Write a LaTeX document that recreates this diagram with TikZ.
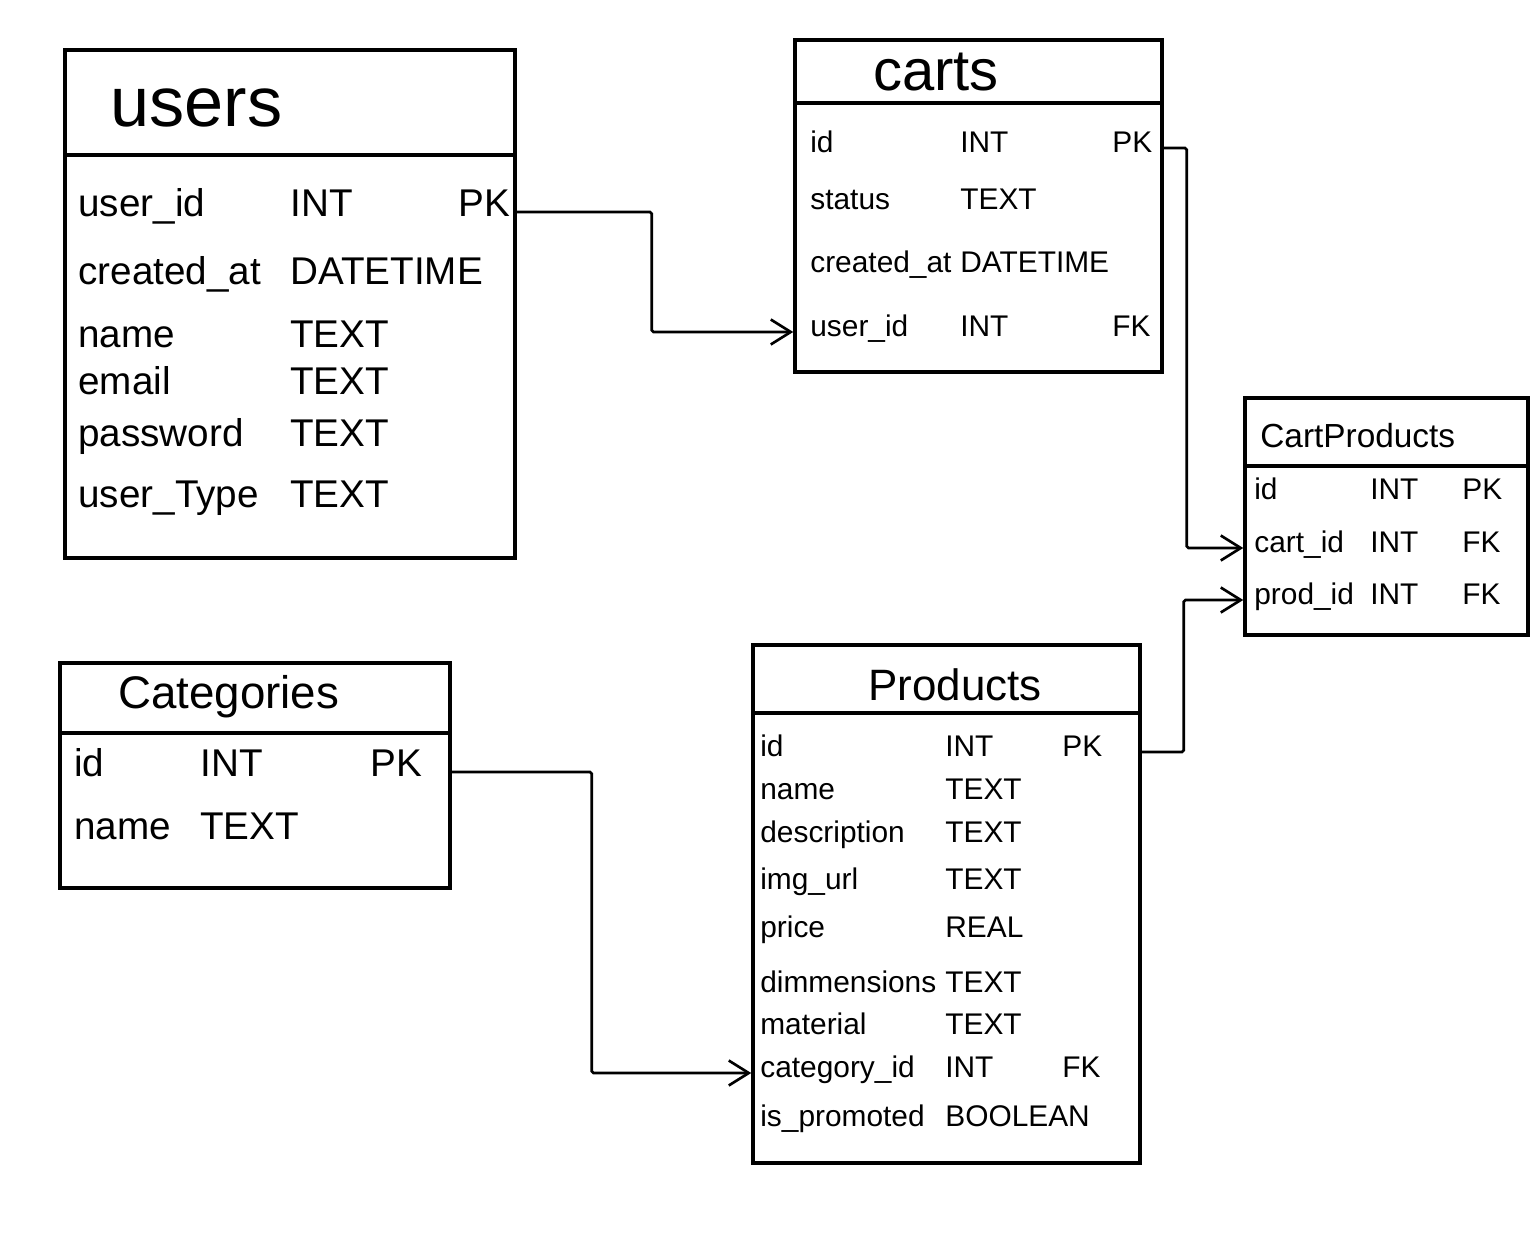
\documentclass[tikz,border=0pt]{standalone}
\usepackage{fontspec}
\setmainfont{Liberation Sans}
\usetikzlibrary{arrows.meta,positioning,fit}

\begin{document}
\begin{tikzpicture}[x=0.02cm,y=-0.02cm,
  tbl/.style={draw,line width=2pt,inner sep=0pt},
  hdr/.style={line width=2pt},
  ttl/.style={inner sep=0pt},
  fld/.style={anchor=west,inner sep=0pt,text height=0.72em,text depth=0.2em},
  link/.style={-{Straight Barb[length=4mm,width=5mm,line width=1.5pt]},line width=1.5pt,rounded corners=1pt}]
\useasboundingbox (0,0) rectangle (1536,1240);

% table frames
\node[tbl,fit={(65,50) (515,558)}] (users) {};
\node[tbl,fit={(795,40) (1162,372)}] (carts) {};
\node[tbl,fit={(1245,398) (1528,635)}] (cartprod) {};
\node[tbl,fit={(60,663) (450,888)}] (cats) {};
\node[tbl,fit={(753,645) (1140,1163)}] (prods) {};

% header rules
\draw[hdr] (users.west |- 0,155) -- (users.east |- 0,155);
\draw[hdr] (carts.west |- 0,103) -- (carts.east |- 0,103);
\draw[hdr] (cartprod.west |- 0,466) -- (cartprod.east |- 0,466);
\draw[hdr] (cats.west |- 0,733) -- (cats.east |- 0,733);
\draw[hdr] (prods.west |- 0,713) -- (prods.east |- 0,713);

% titles
\node[ttl,anchor=west,font=\fontsize{40}{44}\selectfont] (users-t) at (110,108) {users};
\node[ttl,font=\fontsize{33}{37}\selectfont] (carts-t) at (936,72) {carts};
\node[ttl,anchor=west,font=\fontsize{19}{23}\selectfont] (cartprod-t) at (1260,436) {CartProducts};
\node[ttl,anchor=west,font=\fontsize{26}{30}\selectfont] (cats-t) at (118,697) {Categories};
\node[ttl,font=\fontsize{25}{29}\selectfont] (prods-t) at (955,685) {Products};

% users
\foreach \n/\t/\k/\y [count=\i] in {user\_id/INT/PK/212,created\_at/DATETIME//280,name/TEXT//343,
    email/TEXT//390,password/TEXT//442,user\_Type/TEXT//503} {
  \node[fld,font=\fontsize{22}{26}\selectfont] (users-\i) at (78,\y) {\n};
  \node[fld,font=\fontsize{22}{26}\selectfont] at (290,\y) {\t};
  \node[fld,font=\fontsize{22}{26}\selectfont] at (458,\y) {\k};
}

% carts
\foreach \n/\t/\k/\y [count=\i] in {id/INT/PK/148,status/TEXT//205,created\_at/DATETIME//268,user\_id/INT/FK/332} {
  \node[fld,font=\fontsize{17}{21}\selectfont] (carts-\i) at (810,\y) {\n};
  \node[fld,font=\fontsize{17}{21}\selectfont] at (960,\y) {\t};
  \node[fld,font=\fontsize{17}{21}\selectfont] at (1112,\y) {\k};
}

% cart products
\foreach \n/\t/\k/\y [count=\i] in {id/INT/PK/495,cart\_id/INT/FK/548,prod\_id/INT/FK/600} {
  \node[fld,font=\fontsize{17}{21}\selectfont] (cartprod-\i) at (1254,\y) {\n};
  \node[fld,font=\fontsize{17}{21}\selectfont] at (1370,\y) {\t};
  \node[fld,font=\fontsize{17}{21}\selectfont] at (1462,\y) {\k};
}

% categories
\foreach \n/\t/\k/\y [count=\i] in {id/INT/PK/772,name/TEXT//835} {
  \node[fld,font=\fontsize{22}{26}\selectfont] (cats-\i) at (74,\y) {\n};
  \node[fld,font=\fontsize{22}{26}\selectfont] at (200,\y) {\t};
  \node[fld,font=\fontsize{22}{26}\selectfont] at (370,\y) {\k};
}

% products
\foreach \n/\t/\k/\y [count=\i] in {id/INT/PK/752,name/TEXT//795,description/TEXT//838,img\_url/TEXT//885,
    price/REAL//933,dimmensions/TEXT//988,material/TEXT//1030,category\_id/INT/FK/1073,is\_promoted/BOOLEAN//1122} {
  \node[fld,font=\fontsize{17}{21}\selectfont] (prods-\i) at (760,\y) {\n};
  \node[fld,font=\fontsize{17}{21}\selectfont] at (945,\y) {\t};
  \node[fld,font=\fontsize{17}{21}\selectfont] at (1062,\y) {\k};
}

% relations
\draw[link] (users.east |- users-1) -- ++(135,0) |- (carts.west |- carts-4);
\draw[link] (carts.east |- carts-1) -- ++(23,0) |- (cartprod.west |- cartprod-2);
\draw[link] (prods.east |- prods-1) -- ++(42,0) |- (cartprod.west |- cartprod-3);
\draw[link] (cats.east |- cats-1) -- ++(140,0) |- (prods.west |- prods-8);
\end{tikzpicture}
\end{document}
